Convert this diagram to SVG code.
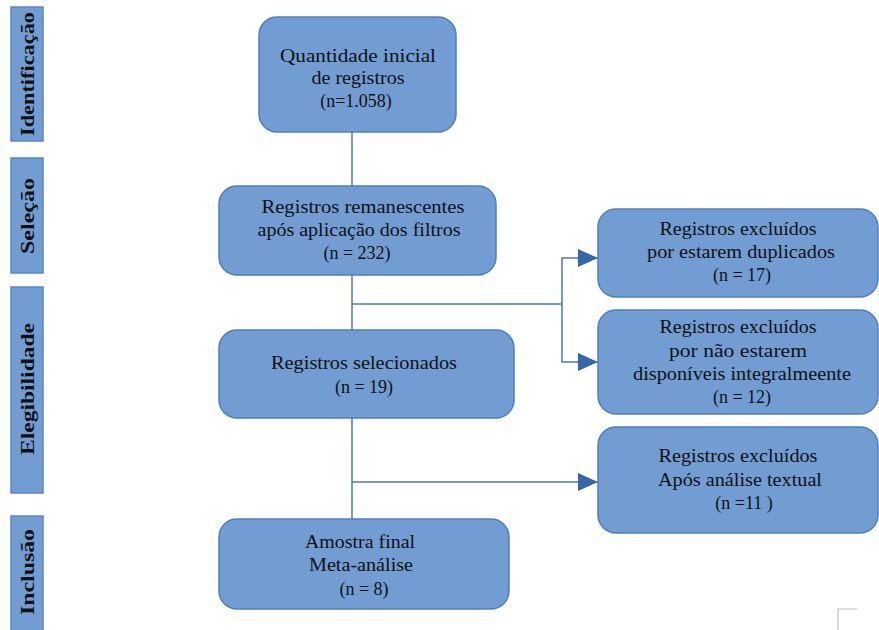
<svg xmlns="http://www.w3.org/2000/svg" width="879" height="630" viewBox="0 0 879 630">
<style>
.box{fill:#729dd2;stroke:#4f7fbf;stroke-width:1.5}
.side{fill:#729dd2;stroke:#5a88c4;stroke-width:1.5}
.t{font-family:"Liberation Serif","Times New Roman",serif;font-size:18px;fill:#111;text-anchor:middle}
.s{font-family:"Liberation Serif","Times New Roman",serif;font-size:19px;font-weight:bold;fill:#111;text-anchor:middle}
.ln{stroke:#4a7ab8;stroke-width:1.5;fill:none}
</style>
<defs>
<marker id="ah" markerWidth="20" markerHeight="18" refX="20" refY="9" orient="auto" markerUnits="userSpaceOnUse">
<path d="M0,0 L20,9 L0,18 Z" fill="#3566aa"/>
</marker>
</defs>
<rect width="879" height="630" fill="#fff"/>
<g id="connectors">
<line class="ln" x1="352" y1="132" x2="352" y2="519"/>
<line class="ln" x1="352" y1="304" x2="562" y2="304"/>
<polyline class="ln" points="578,258 562,258 562,362 578,362"/>
<line class="ln" x1="577" y1="258" x2="598" y2="258" marker-end="url(#ah)"/>
<line class="ln" x1="577" y1="362" x2="598" y2="362" marker-end="url(#ah)"/>
<line class="ln" x1="352" y1="482" x2="598" y2="482" marker-end="url(#ah)"/>
</g>
<g id="side-identificacao">
<rect class="side" x="11" y="7" width="32" height="134"/>
<text class="s" transform="translate(34,74) rotate(-90)" textLength="124" lengthAdjust="spacingAndGlyphs">Identificação</text>
</g>
<g id="side-selecao">
<rect class="side" x="11" y="158" width="32" height="115"/>
<text class="s" transform="translate(34,216) rotate(-90)" textLength="76" lengthAdjust="spacingAndGlyphs">Seleção</text>
</g>
<g id="side-elegibilidade">
<rect class="side" x="11" y="287" width="32" height="206"/>
<text class="s" transform="translate(34,389) rotate(-90)" textLength="132" lengthAdjust="spacingAndGlyphs">Elegibilidade</text>
</g>
<g id="side-inclusao">
<rect class="side" x="11" y="516" width="32" height="120"/>
<text class="s" transform="translate(34,572) rotate(-90)" textLength="86" lengthAdjust="spacingAndGlyphs">Inclusão</text>
</g>
<g id="box-inicial">
<rect class="box" x="259" y="17" width="197" height="115" rx="18"/>
<text class="t" x="358" y="62" textLength="156" lengthAdjust="spacingAndGlyphs">Quantidade inicial</text>
<text class="t" x="358" y="84" textLength="93" lengthAdjust="spacingAndGlyphs">de registros</text>
<text class="t" x="356" y="107">(n=1.058)</text>
</g>
<g id="box-remanescentes">
<rect class="box" x="219" y="186" width="277" height="89" rx="18"/>
<text class="t" x="363" y="213" textLength="203" lengthAdjust="spacingAndGlyphs">Registros remanescentes</text>
<text class="t" x="359" y="236" textLength="203" lengthAdjust="spacingAndGlyphs">após aplicação dos filtros</text>
<text class="t" x="357" y="259">(n = 232)</text>
</g>
<g id="box-selecionados">
<rect class="box" x="219" y="330" width="295" height="88" rx="18"/>
<text class="t" x="364" y="369" textLength="186" lengthAdjust="spacingAndGlyphs">Registros selecionados</text>
<text class="t" x="364" y="393">(n = 19)</text>
</g>
<g id="box-amostra">
<rect class="box" x="219" y="519" width="290" height="90" rx="18"/>
<text class="t" x="360" y="548" textLength="110" lengthAdjust="spacingAndGlyphs">Amostra final</text>
<text class="t" x="361" y="571" textLength="104" lengthAdjust="spacingAndGlyphs">Meta-análise</text>
<text class="t" x="364" y="595">(n = 8)</text>
</g>
<g id="box-duplicados">
<rect class="box" x="598" y="209" width="280" height="88" rx="18"/>
<text class="t" x="738" y="235" textLength="157" lengthAdjust="spacingAndGlyphs">Registros excluídos</text>
<text class="t" x="741" y="258" textLength="188" lengthAdjust="spacingAndGlyphs">por estarem duplicados</text>
<text class="t" x="742" y="281">(n = 17)</text>
</g>
<g id="box-indisponiveis">
<rect class="box" x="598" y="310" width="280" height="104" rx="18"/>
<text class="t" x="738" y="333" textLength="157" lengthAdjust="spacingAndGlyphs">Registros excluídos</text>
<text class="t" x="738" y="357" textLength="138" lengthAdjust="spacingAndGlyphs">por não estarem</text>
<text class="t" x="742" y="380" textLength="218" lengthAdjust="spacingAndGlyphs">disponíveis integralmeente</text>
<text class="t" x="742" y="403">(n = 12)</text>
</g>
<g id="box-textual">
<rect class="box" x="598" y="427" width="280" height="106" rx="18"/>
<text class="t" x="738" y="462" textLength="159" lengthAdjust="spacingAndGlyphs">Registros excluídos</text>
<text class="t" x="740" y="486" textLength="164" lengthAdjust="spacingAndGlyphs">Após análise textual</text>
<text class="t" x="744" y="509">(n =11 )</text>
</g>
<g id="corner-mark">
<polyline points="838,630 838,609 857,609" fill="none" stroke="#d0d0d0" stroke-width="1.5"/>
</g>
</svg>
